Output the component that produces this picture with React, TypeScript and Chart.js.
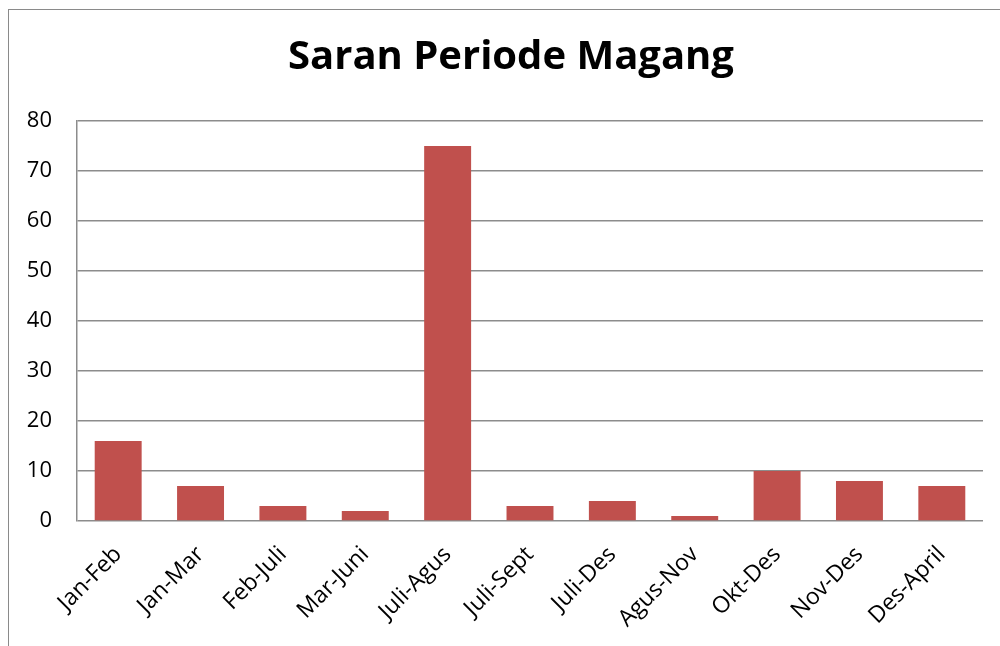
import React, { useEffect, useRef } from "react";
import { Chart, registerables } from "chart.js";

Chart.register(...registerables);

const categories = [
  "Jan-Feb", "Jan-Mar", "Feb-Juli", "Mar-Juni", "Juli-Agus", "Juli-Sept",
  "Juli-Des", "Agus-Nov", "Okt-Des", "Nov-Des", "Des-April",
];
const values = [16, 7, 3, 2, 75, 3, 4, 1, 10, 8, 7];
const titleText = "Saran Periode Magang";
const yMin = 0;
const yMax = 80;
const yStep = 10;

const FONT = "'Open Sans', Lato, sans-serif";

const titlePlugin = {
  id: "customTitle",
  afterDraw(chart: any) {
    const ctx = chart.ctx;
    ctx.save();
    ctx.fillStyle = "#000";
    ctx.font = `bold 40px ${FONT}`;
    ctx.textAlign = "center";
    ctx.textBaseline = "middle";
    ctx.fillText(titleText, 502, 48);
    ctx.restore();
  },
};

export default function App() {
  const ref = useRef<HTMLCanvasElement | null>(null);

  useEffect(() => {
    if (!ref.current) return;
    const chart = new Chart(ref.current, {
      type: "bar",
      data: {
        labels: categories,
        datasets: [
          {
            data: values,
            backgroundColor: "#C0504D",
            borderWidth: 0,
            barPercentage: 0.57,
            categoryPercentage: 1,
          },
        ],
      },
      plugins: [titlePlugin],
      options: {
        animation: false,
        responsive: true,
        maintainAspectRatio: false,
        layout: { padding: { left: 0, right: 26, top: 111, bottom: 0 } },
        plugins: {
          legend: { display: false },
          tooltip: { enabled: false },
          title: { display: false },
        },
        scales: {
          x: {
            grid: { display: false, drawTicks: false },
            border: { display: false },
            ticks: {
              color: "#000",
              font: { family: FONT, size: 23 },
              minRotation: 45,
              maxRotation: 45,
              padding: 20,
              autoSkip: false,
            },
            afterFit: (s: any) => {
              s.height = 129;
            },
          },
          y: {
            min: yMin,
            max: yMax,
            grid: { color: "#8c8c8c", lineWidth: 1.5, drawTicks: false },
            border: { display: true, color: "#8c8c8c", width: 1.5 },
            ticks: {
              stepSize: yStep,
              color: "#000",
              font: { family: FONT, size: 22 },
              padding: 25,
            },
            afterFit: (s: any) => {
              s.width = 68;
            },
          },
        },
      },
    });
    return () => chart.destroy();
  }, []);

  return (
    <div
      style={{
        position: "fixed",
        left: 8,
        top: 9,
        width: 1100,
        height: 700,
        borderLeft: "1px solid #8a8a8a",
        borderTop: "1px solid #8a8a8a",
        background: "#fff",
      }}
    >
      <div style={{ position: "relative", width: 1000, height: 640 }}>
        <canvas ref={ref} />
      </div>
    </div>
  );
}
